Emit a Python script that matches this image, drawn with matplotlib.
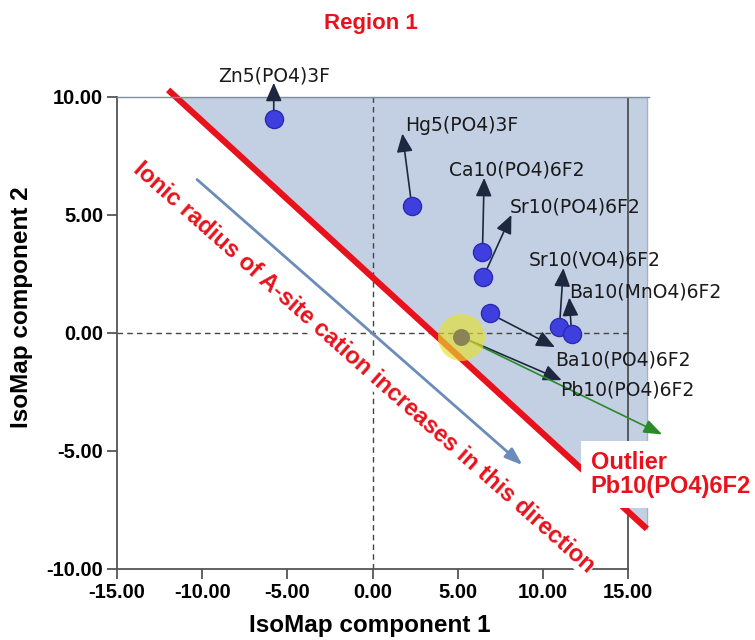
import matplotlib.pyplot as plt

# compound positions in IsoMap space
compounds = ['Zn5(PO4)3F', 'Hg5(PO4)3F', 'Ca10(PO4)6F2', 'Sr10(PO4)6F2',
             'Ba10(PO4)6F2', 'Sr10(VO4)6F2', 'Ba10(MnO4)6F2']
comp1 = [-5.8, 2.3, 6.45, 6.5, 6.87, 10.97, 11.68]
comp2 = [9.07, 5.4, 3.43, 2.37, 0.83, 0.25, -0.05]

# arrow tips and label anchors for each compound
tip_x = [-5.8, 1.75, 6.55, 8.15, 10.7, 11.2, 11.55]
tip_y = [10.6, 8.45, 6.57, 5.0, -0.6, 2.75, 1.5]
lab_x = [-5.8, 1.9, 4.5, 8.05, 10.7, 9.15, 11.55]
lab_y = [10.9, 8.8, 6.9, 5.35, -1.15, 3.1, 1.75]

# outlier
outlier_name = 'Pb10(PO4)6F2'
outlier_x, outlier_y = 5.22, -0.17
outlier_tip = (11.1, -2.0)
outlier_lab = (11.0, -2.4)
green_tip = (17.0, -4.3)

# region 1 boundary and trend arrow
bound_x = [-12.0, 16.1]
bound_y = [10.3, -8.3]
region_x = [-11.55, 16.1, 16.1]
region_y = [10.0, 10.0, -8.3]
trend_start = (-10.3, 6.5)
trend_end = (8.8, -5.6)

xticks = [-15, -10, -5, 0, 5, 10, 15]
yticks = [-10, -5, 0, 5, 10]

fig = plt.figure(figsize=(7.55, 6.4), dpi=100)
ax = fig.add_axes([0.155, 0.111, 0.704, 0.7375])
ax.set_xlim(-15, 16.2)
ax.set_ylim(-10, 10)

ax.fill(region_x, region_y, facecolor='#c3d0e3', edgecolor='#a5b2c6', lw=1, zorder=0)

ax.axhline(0, xmax=(15.2 + 15) / 31.2, color='#444444', ls=(0, (4, 3)), lw=1, zorder=1)
ax.axvline(0, color='#444444', ls=(0, (4, 3)), lw=1, zorder=1)
ax.axvline(15, color='#444444', lw=1.2, zorder=1)

ax.plot(bound_x, bound_y, color='#e8121c', lw=4.5, solid_capstyle='butt',
        clip_on=False, zorder=2)

ax.annotate('', xy=trend_end, xytext=trend_start,
            arrowprops=dict(arrowstyle='-|>,head_length=0.7,head_width=0.25',
                            color='#6b8cba', lw=2, mutation_scale=15,
                            shrinkA=0, shrinkB=0), zorder=2)

for i in range(len(compounds)):
    ax.annotate('', xy=(tip_x[i], tip_y[i]), xytext=(comp1[i], comp2[i]),
                arrowprops=dict(arrowstyle='-|>,head_length=0.8,head_width=0.35',
                                color='#1e2740', lw=1.2, mutation_scale=14,
                                shrinkA=0, shrinkB=0),
                annotation_clip=False, zorder=3)
    ha = 'center' if i == 0 else 'left'
    ax.text(lab_x[i], lab_y[i], compounds[i], fontsize=13.5, ha=ha, va='center',
            color='#1a1a1a', zorder=5, clip_on=False)

ax.annotate('', xy=outlier_tip, xytext=(outlier_x, outlier_y),
            arrowprops=dict(arrowstyle='-|>,head_length=0.8,head_width=0.35',
                            color='#1e2740', lw=1.2, mutation_scale=14,
                            shrinkA=0, shrinkB=0), zorder=3)
ax.annotate('', xy=green_tip, xytext=(outlier_x, outlier_y),
            arrowprops=dict(arrowstyle='-|>,head_length=0.8,head_width=0.3',
                            color='#2a8a2a', lw=1.2, mutation_scale=14,
                            shrinkA=0, shrinkB=0),
            annotation_clip=False, zorder=3)
ax.text(outlier_lab[0], outlier_lab[1], outlier_name, fontsize=13.5, ha='left',
        va='center', color='#1a1a1a', zorder=5)

ax.scatter(comp1, comp2, s=170, color='#3f3fe0', edgecolor='#2a2ab0', lw=1, zorder=4)
ax.scatter([outlier_x], [outlier_y], s=1150, color='#e6e030', alpha=0.65, lw=0, zorder=4)
ax.scatter([outlier_x], [outlier_y], s=150, color='#8b8356', lw=0, zorder=4)

ax.text(-0.5, -1.45, 'Ionic radius of A-site cation increases in this direction',
        fontsize=17, fontweight='bold', color='#e8121c', rotation=-41.5,
        rotation_mode='anchor', ha='center', va='center', family='Liberation Sans',
        bbox=dict(facecolor='white', edgecolor='none', pad=0.5), zorder=3,
        clip_on=False)

ax.text(12.8, -6.0, 'Outlier\nPb10(PO4)6F2', fontsize=17, fontweight='bold',
        color='#e8121c', family='Liberation Sans', ha='left', va='center',
        linespacing=1.1, bbox=dict(facecolor='white', edgecolor='none', pad=7),
        zorder=6, clip_on=False)

fig.text(371 / 755, 1 - 24 / 640, 'Region 1', fontsize=16, fontweight='bold',
         color='#e8121c', family='Liberation Sans', ha='center', va='center')

ax.set_xticks(xticks)
ax.set_yticks(yticks)
ax.set_xticklabels([f'{v:.2f}' for v in xticks])
ax.set_yticklabels([f'{v:.2f}' for v in yticks])
for lab in ax.get_xticklabels() + ax.get_yticklabels():
    lab.set_fontweight('bold')
    lab.set_family('Liberation Sans')
    lab.set_fontsize(14.5)
ax.tick_params(direction='out', length=7, width=1.3, color='#555555', pad=3)

ax.set_xlabel('IsoMap component 1', fontsize=17.5, fontweight='bold', family='Liberation Sans')
ax.set_ylabel('IsoMap component 2', fontsize=17.5, fontweight='bold', family='Liberation Sans')
ax.xaxis.set_label_coords(0.476, -0.119)
ax.yaxis.set_label_coords(-0.179, 0.555)
ax.xaxis.label.set_va('center')
ax.yaxis.label.set_va('center')

ax.spines['right'].set_visible(False)
ax.spines['bottom'].set_bounds(-15, 15)
for s in ['left', 'bottom', 'top']:
    ax.spines[s].set_color('#555555')
    ax.spines[s].set_linewidth(1.3)
ax.spines['top'].set_color('#7f8da0')
ax.spines['top'].set_linewidth(1)

fig.savefig('out.png', dpi=100)
